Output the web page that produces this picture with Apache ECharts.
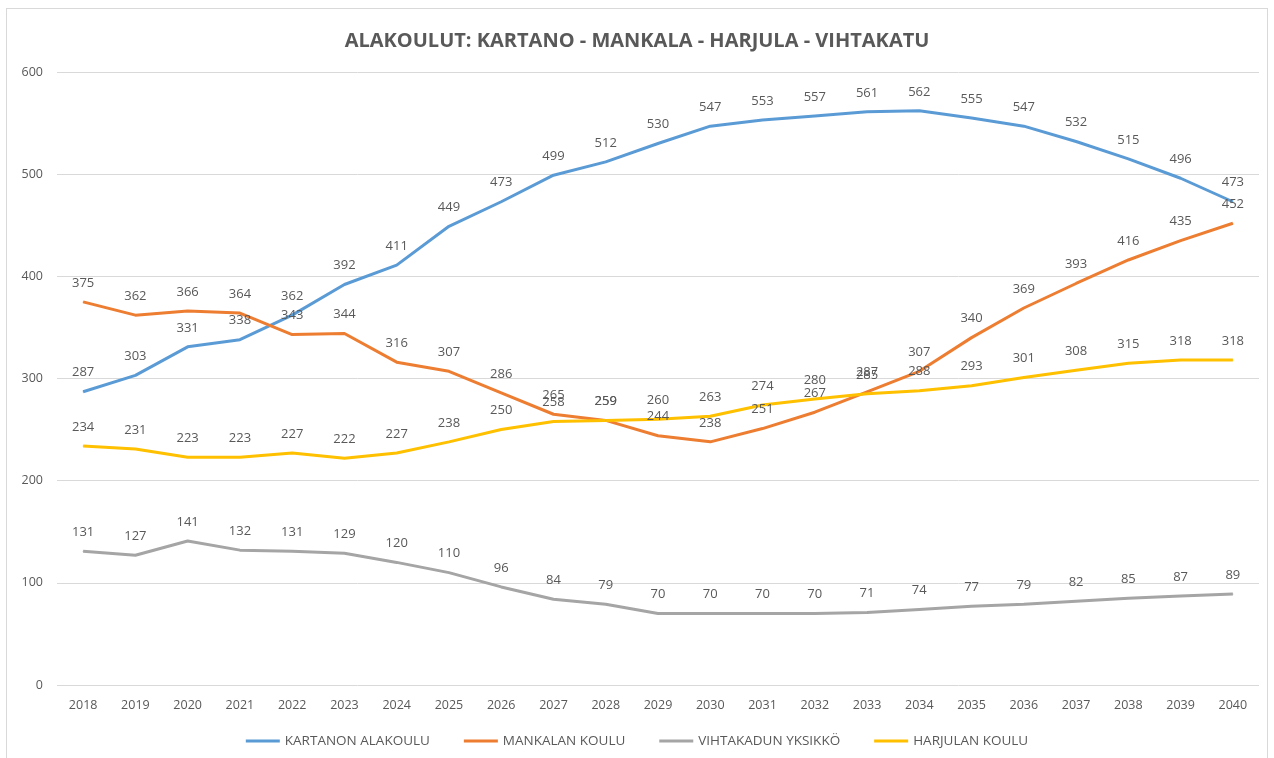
<!DOCTYPE html>
<html>
<head>
<meta charset="utf-8">
<script src="https://cdn.jsdelivr.net/npm/echarts@6/dist/echarts.min.js"></script>
<style>
  html, body { margin: 0; padding: 0; background: #fff; }
  #frame { position: absolute; left: 6px; top: 8px; width: 1262px; height: 760px; border: 1px solid #d9d9d9; box-sizing: border-box; }
  #chart { position: absolute; left: 0; top: 0; width: 1274px; height: 758px; }
</style>
</head>
<body>
<div id="frame"></div>
<div id="chart"></div>
<script>
const years = ["2018","2019","2020","2021","2022","2023","2024","2025","2026","2027","2028","2029","2030","2031","2032","2033","2034","2035","2036","2037","2038","2039","2040"];
const kartano = [287, 303, 331, 338, 362, 392, 411, 449, 473, 499, 512, 530, 547, 553, 557, 561, 562, 555, 547, 532, 515, 496, 473];
const mankala = [375, 362, 366, 364, 343, 344, 316, 307, 286, 265, 259, 244, 238, 251, 267, 287, 307, 340, 369, 393, 416, 435, 452];
const vihtakatu = [131, 127, 141, 132, 131, 129, 120, 110, 96, 84, 79, 70, 70, 70, 70, 71, 74, 77, 79, 82, 85, 87, 89];
const harjula = [234, 231, 223, 223, 227, 222, 227, 238, 250, 258, 259, 260, 263, 274, 280, 285, 288, 293, 301, 308, 315, 318, 318];

const chart = echarts.init(document.getElementById("chart"));

function line(name, data, color) {
  return {
    name: name,
    type: "line",
    data: data,
    symbol: "circle",
    symbolSize: 1,
    showSymbol: true,
    smooth: false,
    lineStyle: { color: color, width: 3 },
    itemStyle: { color: color },
    label: {
      show: true,
      position: "top",
      distance: 12,
      color: "#595959",
      fontSize: 13,
      fontFamily: "Open Sans"
    },
    labelLayout: { hideOverlap: false }
  };
}

chart.setOption({
  animation: false,
  textStyle: { fontFamily: "Open Sans" },
  title: {
    text: "ALAKOULUT: KARTANO - MANKALA - HARJULA - VIHTAKATU",
    left: "center",
    top: 26,
    textStyle: { color: "#595959", fontSize: 20, fontWeight: "bold", fontFamily: "Open Sans" }
  },
  legend: {
    bottom: 5,
    left: "center",
    itemWidth: 34,
    itemHeight: 3,
    itemGap: 34,
    icon: "rect",
    textStyle: { color: "#595959", fontSize: 13.5 },
    data: ["KARTANON ALAKOULU", "MANKALAN KOULU", "VIHTAKADUN YKSIKKÖ", "HARJULAN KOULU"]
  },
  grid: { left: 57, right: 15, top: 72, bottom: 73 },
  xAxis: {
    type: "category",
    data: years,
    boundaryGap: true,
    axisLine: { show: false },
    axisTick: { show: false },
    axisLabel: { color: "#595959", fontSize: 12.5, margin: 14 }
  },
  yAxis: {
    type: "value",
    min: 0,
    max: 600,
    interval: 100,
    axisLine: { show: false },
    axisTick: { show: false },
    axisLabel: { color: "#595959", fontSize: 12.5, margin: 14 },
    splitLine: { lineStyle: { color: "#d9d9d9", width: 1 } }
  },
  series: [
    line("KARTANON ALAKOULU", kartano, "#5B9BD5"),
    line("MANKALAN KOULU", mankala, "#ED7D31"),
    line("VIHTAKADUN YKSIKKÖ", vihtakatu, "#A5A5A5"),
    line("HARJULAN KOULU", harjula, "#FFC000")
  ]
});
</script>
</body>
</html>
